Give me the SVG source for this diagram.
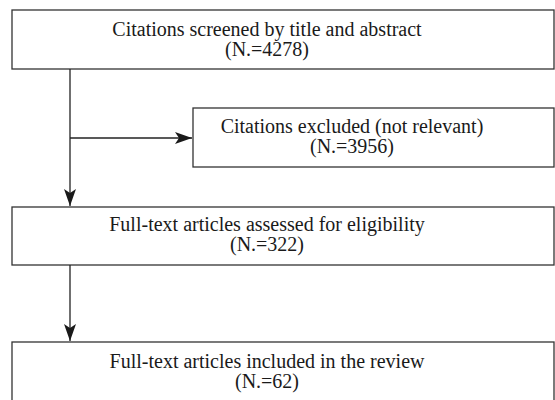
<svg xmlns="http://www.w3.org/2000/svg" width="555" height="400" viewBox="0 0 555 400">
<style>
.box{fill:#fff;stroke:#333;stroke-width:1.3}
.t{font-family:"Liberation Serif","Times New Roman",serif;font-size:20px;fill:#1a1a1a;text-anchor:middle}
.c{stroke:#222;stroke-width:1.3;fill:none}
</style>
<defs>
<marker id="ah" viewBox="0 0 17 12" refX="17" refY="6" markerWidth="17" markerHeight="12" markerUnits="userSpaceOnUse" orient="auto">
<path d="M0,0 L17,6 L0,12 L4,6 Z" fill="#1a1a1a"/>
</marker>
</defs>
<rect width="555" height="400" fill="#fff"/>
<g id="n1">
<rect class="box" x="12" y="10" width="542" height="59"/>
<text class="t" x="267" y="36">Citations screened by title and abstract</text>
<text class="t" x="267" y="56">(N.=4278)</text>
</g>
<g id="n2">
<rect class="box" x="193" y="108" width="361" height="59"/>
<text class="t" x="352" y="133">Citations excluded (not relevant)</text>
<text class="t" x="352" y="153">(N.=3956)</text>
</g>
<g id="n3">
<rect class="box" x="12" y="207" width="542" height="58"/>
<text class="t" x="267" y="231">Full-text articles assessed for eligibility</text>
<text class="t" x="267" y="251">(N.=322)</text>
</g>
<g id="n4">
<rect class="box" x="12" y="342" width="542" height="62"/>
<text class="t" x="267" y="368">Full-text articles included in the review</text>
<text class="t" x="267" y="388">(N.=62)</text>
</g>
<g id="connectors">
<path class="c" d="M70,69 V206" marker-end="url(#ah)"/>
<path class="c" d="M70,138 H192" marker-end="url(#ah)"/>
<path class="c" d="M70,265 V341" marker-end="url(#ah)"/>
</g>
</svg>
